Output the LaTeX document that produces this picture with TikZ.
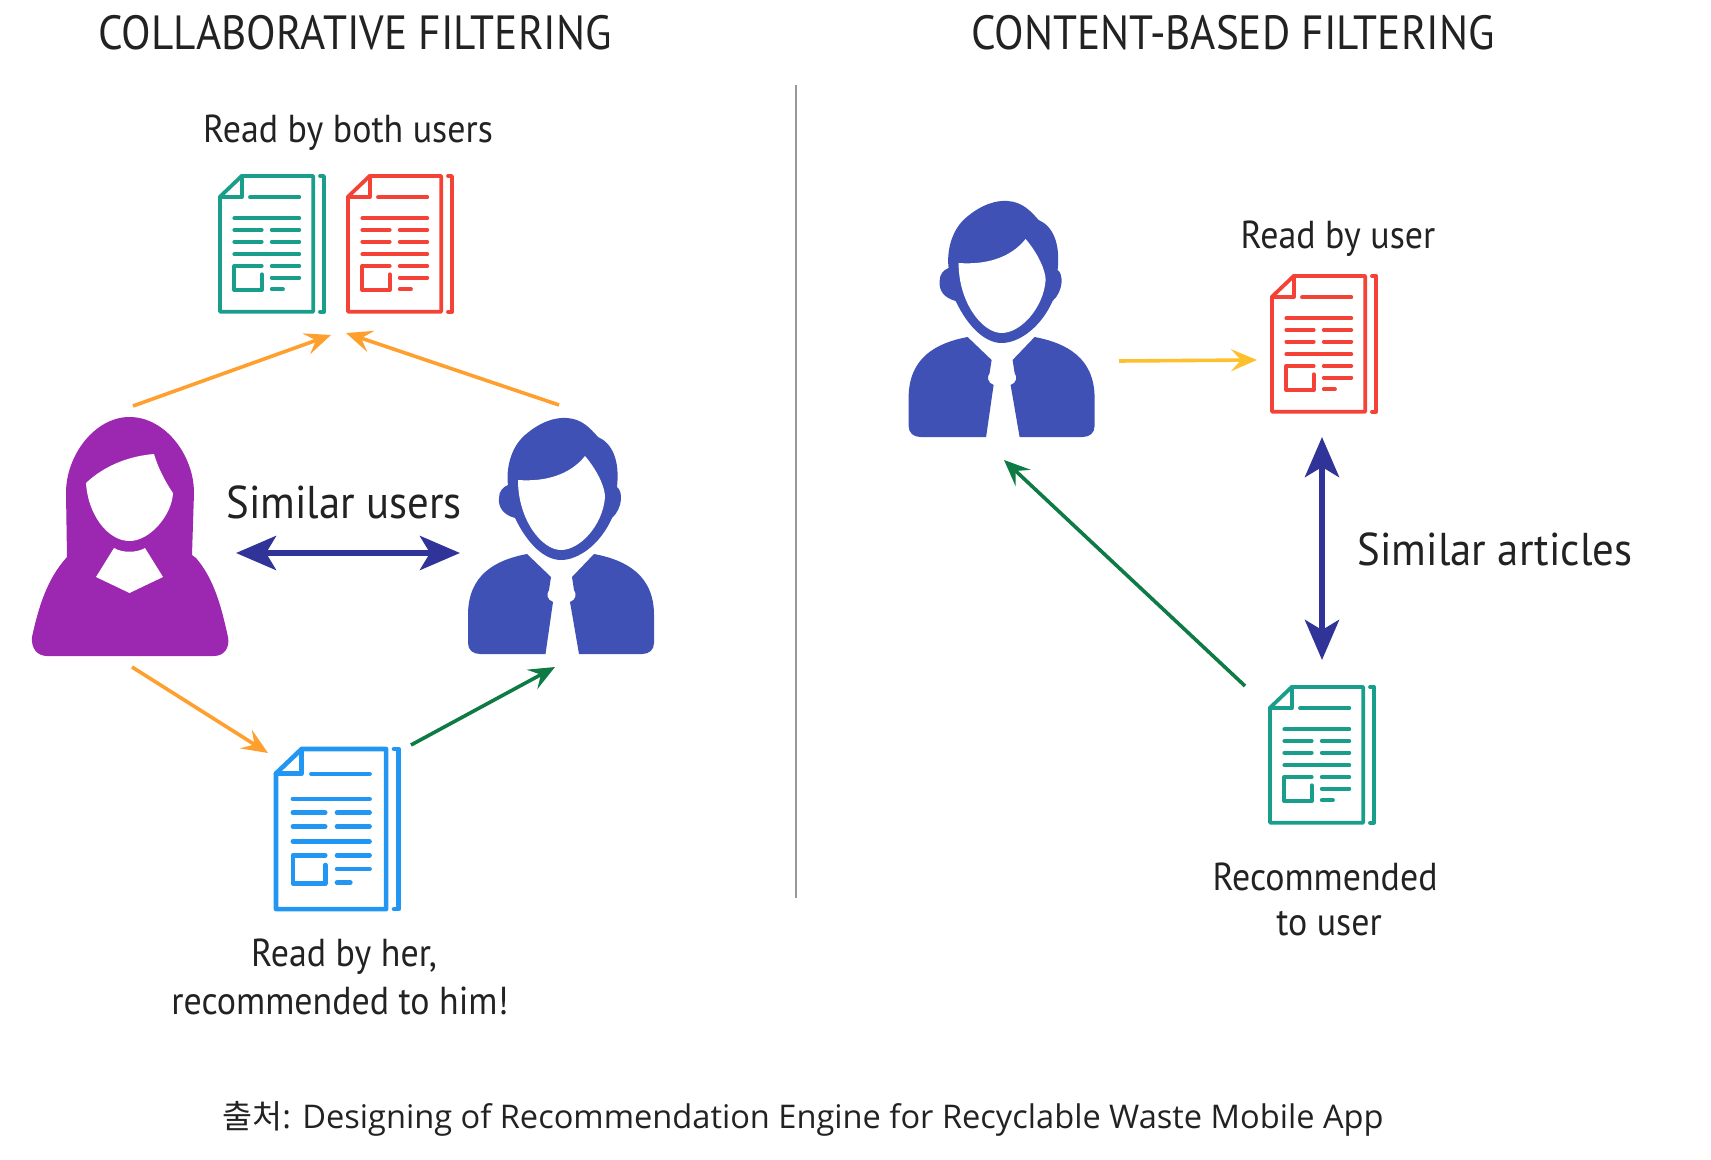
\documentclass[tikz,border=0pt]{standalone}
\usepackage{fontspec}
\setmainfont[FakeStretch=0.92]{PT Sans}
\newfontfamily\headfont[FakeStretch=0.9]{PT Sans}
\newfontfamily\simfont[FakeStretch=0.93]{PT Sans}
\newfontfamily\capfont{Open Sans}
\newfontfamily\krfont{Noto Sans CJK KR}
\usetikzlibrary{arrows.meta}

\definecolor{docteal}{HTML}{1A9E8C}
\definecolor{docred}{HTML}{F44336}
\definecolor{docblue}{HTML}{2196F3}
\definecolor{herpurple}{HTML}{9C27B0}
\definecolor{himblue}{HTML}{3F51B5}
\definecolor{arrorange}{HTML}{FF9F2E}
\definecolor{arryellow}{HTML}{FFC02E}
\definecolor{arrnavy}{HTML}{303398}
\definecolor{arrgreen}{HTML}{0E7A44}
\definecolor{inkgray}{HTML}{222222}

\tikzset{
  thinarrow/.style={line width=1.8pt, -{Stealth[length=13pt, width=11pt, inset=5pt]}},
  similararrow/.style={line width=3pt, {Stealth[length=20pt, width=17pt, inset=5pt]}-{Stealth[length=20pt, width=17pt, inset=5pt]}},
  doclines/.style={line width=1.9pt, line cap=round, line join=round},
  titletext/.style={text=inkgray, font=\headfont\fontsize{24}{24}\selectfont},
  labeltext/.style={text=inkgray, font=\fontsize{19.5}{19.5}\selectfont},
  similartext/.style={text=inkgray, font=\simfont\fontsize{23}{23}\selectfont}
}

% document icon, corner at (#1,#2), scale #3, look #4
\newcommand{\docicon}[4]{
\begin{scope}[shift={(#1,#2)}, scale=#3]
\draw[doclines, #4] (0,20.7) -- (21.7,0) -- (93.3,0) -- (93.3,135.7) -- (0,135.7) -- cycle;
\draw[doclines, #4] (21.7,0) -- (21.7,21) -- (0,21);
\draw[doclines, #4] (100,0) -- (104,0) -- (104,135.7) -- (100,135.7);
\draw[doclines, #4] (30,21.3) -- (79.3,21.3);
\draw[doclines, #4] (14.3,42.3) -- (79.3,42.3);
\draw[doclines, #4] (14.3,54) -- (41.7,54);
\draw[doclines, #4] (51.7,54) -- (79.3,54);
\draw[doclines, #4] (14.3,65.7) -- (41.7,65.7);
\draw[doclines, #4] (51.7,65.7) -- (79.3,65.7);
\draw[doclines, #4] (14.3,78.3) -- (79.3,78.3);
\draw[doclines, #4] (41.7,90) -- (14.3,90) -- (14.3,114) -- (41.7,114) -- (41.7,98.3);
\draw[doclines, #4] (51.7,90) -- (79.3,90);
\draw[doclines, #4] (51.7,101.7) -- (79.3,101.7);
\draw[doclines, #4] (51.7,113.3) -- (63,113.3);
\end{scope}
}

% man, shifted by (#1,#2)
\newcommand{\manicon}[2]{
\begin{scope}[shift={(#1,#2)}]
\fill[himblue] (561,560) .. controls (545,560) and (528,545) .. (515,518)
  .. controls (504,515) and (498,508) .. (499,498) .. controls (499,491) and (503,487) .. (508,485)
  .. controls (506,470) and (510,448) .. (525,435) .. controls (540,422) and (555,417) .. (567,418)
  .. controls (582,419) and (590,428) .. (598,437) .. controls (612,443) and (620,460) .. (617,487)
  .. controls (623,491) and (623,508) .. (612,518) .. controls (600,545) and (578,560) .. (561,560) -- cycle;
\fill[white] (518,480) .. controls (545,482) and (570,475) .. (585,456)
  .. controls (597,470) and (605,487) .. (605,497) .. controls (603,525) and (580,550) .. (561,550)
  .. controls (542,550) and (518,520) .. (518,480) -- cycle;
\fill[himblue] (527,554) .. controls (495,560) and (468,575) .. (468,615) -- (468,643)
  .. controls (468,650) and (473,654) .. (480,654) -- (545.5,654) -- (553,602)
  .. controls (547,600) and (546,594) .. (549,590) -- (551,577) -- cycle;
\fill[himblue] (594,554) .. controls (626,560) and (654,575) .. (654,615) -- (654,643)
  .. controls (654,650) and (649,654) .. (642,654) -- (579,654) -- (570,602)
  .. controls (576,600) and (577,594) .. (574,590) -- (572,577) -- cycle;
\end{scope}
}

\begin{document}
\begin{tikzpicture}[x=0.5pt, y=-0.5pt]
\useasboundingbox (0,0) rectangle (1711,1160);

% titles
\node[titletext] (titleleft) at (355,33) {COLLABORATIVE FILTERING};
\node[titletext] (titleright) at (1233,33) {CONTENT-BASED FILTERING};
\coordinate (dividertop) at (796,85);
\coordinate (dividerbottom) at (796,898);
\draw[line width=1pt, gray!80] (dividertop) -- (dividerbottom);

% left side
\node[labeltext] (bothlabel) at (348,133) {Read by both users};
\docicon{220}{176}{1}{docteal}
\docicon{348}{176}{1}{docred}

\fill[herpurple] (129.5,417) .. controls (165,417) and (194,455) .. (194,493) -- (192,555) -- (196,558)
  .. controls (215,580) and (222,610) .. (228,637) .. controls (230,648) and (224,656) .. (214,656)
  -- (47,656) .. controls (37,656) and (31,648) .. (32,637) .. controls (38,610) and (46,580) .. (67,557)
  -- (66,493) .. controls (66,455) and (95,417) .. (129.5,417) -- cycle;
\fill[white] (86,483) .. controls (105,465) and (130,456) .. (154,454) .. controls (158,468) and (166,483) .. (173,493)
  .. controls (172,515) and (150,541) .. (129.5,541) .. controls (108,541) and (88,515) .. (86,483) -- cycle;
\fill[white] (114,548) .. controls (122,553) and (137,553) .. (145,548) -- (163,577) -- (129.5,593) -- (96,577) -- cycle;

\manicon{0}{0}

\node[similartext] (similarusers) at (344,502) {Similar users};
\coordinate (usersleft) at (236,553);
\coordinate (usersright) at (460,553);
\draw[similararrow, arrnavy] (usersleft) -- (usersright);

\coordinate (herup) at (133,406);
\coordinate (bothleft) at (331,335);
\coordinate (himup) at (559,405);
\coordinate (bothright) at (346,333);
\coordinate (herdown) at (132,667);
\coordinate (recleft) at (268,753);
\coordinate (recright) at (411,745);
\coordinate (himdown) at (555,667);
\draw[thinarrow, arrorange] (herup) -- (bothleft);
\draw[thinarrow, arrorange] (himup) -- (bothright);
\draw[thinarrow, arrorange] (herdown) -- (recleft);
\draw[thinarrow, arrgreen] (recright) -- (himdown);

\docicon{276}{749}{1.18}{docblue, line width=2.3pt}
\node[labeltext] (herlabel) at (344,957) {Read by her,};
\node[labeltext] (himlabel) at (340,1001) {recommended to him!};

% right side
\manicon{440.6}{-217}
\node[labeltext] (userlabel) at (1338,239) {Read by user};
\docicon{1272}{276}{1}{docred}
\docicon{1270}{687}{1}{docteal}

\coordinate (userright) at (1119,361);
\coordinate (readleft) at (1257,360);
\draw[thinarrow, arryellow] (userright) -- (readleft);
\coordinate (readdown) at (1322,437);
\coordinate (recup) at (1322,660);
\draw[similararrow, arrnavy] (readdown) -- (recup);
\coordinate (recorner) at (1245,686);
\coordinate (userdown) at (1004,460);
\draw[thinarrow, arrgreen] (recorner) -- (userdown);

\node[similartext] (similararticles) at (1495,549) {Similar articles};
\node[labeltext] (reclabel) at (1325,877) {Recommended};
\node[labeltext] (tolabel) at (1329,924) {to user};

% source line
\node[text=inkgray, font=\capfont\fontsize{16.3}{16.3}\selectfont] (source) at (803,1119) {{\krfont 출처}: Designing of Recommendation Engine for Recyclable Waste Mobile App};
\end{tikzpicture}
\end{document}
